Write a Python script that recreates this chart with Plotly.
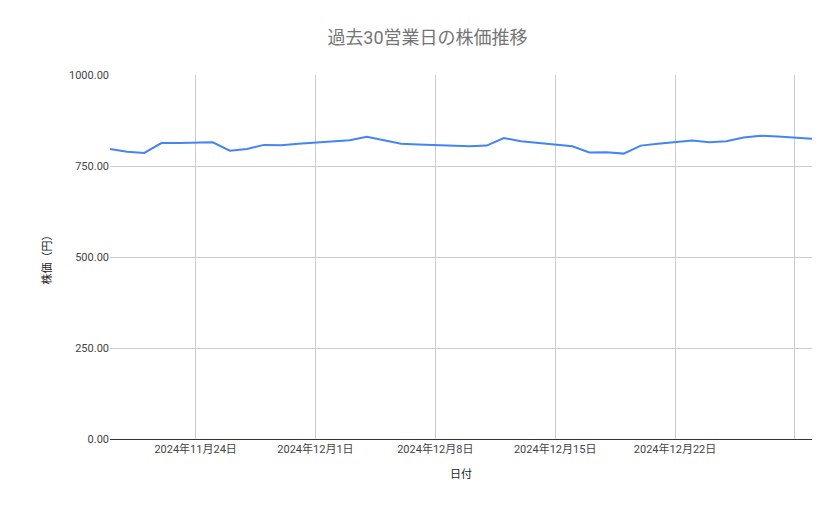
import plotly.graph_objects as go
import pandas as pd

dates = pd.date_range("2024-11-19", "2024-12-30", freq="D")
prices = [797, 789, 786, 813, 813, 814, 815, 792, 797, 808, 807, 811, 815, 818, 821, 830,
          821, 811, 809, 807, 805, 804, 806, 827, 818, 813, 809, 804, 787, 788, 784, 806,
          811, 815, 820, 815, 818, 828, 833, 831, 828, 825]
tick_dates = ["2024-11-24", "2024-12-01", "2024-12-08", "2024-12-15", "2024-12-22", "2024-12-29"]
tick_labels = ["2024年11月24日", "2024年12月1日", "2024年12月8日", "2024年12月15日", "2024年12月22日", ""]
y_ticks = [0, 250, 500, 750, 1000]

fig = go.Figure(go.Scatter(x=dates, y=prices, mode="lines",
                           line=dict(color="#4285f4", width=2), hoverinfo="x+y"))
fig.update_layout(
    width=839, height=519, paper_bgcolor="white", plot_bgcolor="white",
    font=dict(family="Roboto, Noto Sans CJK JP", color="#444", size=11),
    title=dict(text="過去30営業日の株価推移", x=0.5, xanchor="center", y=0.955,
               font=dict(size=18, color="#757575")),
    margin=dict(l=102, r=35, t=67, b=88),
    showlegend=False,
    xaxis=dict(title=dict(text="日付", font=dict(size=11, color="#222")),
               range=["2024-11-19", "2024-12-30"], tickvals=tick_dates, ticktext=tick_labels,
               showgrid=True, gridcolor="#cccccc", showline=True, linecolor="#333",
               ticks="", tickfont=dict(color="#444")),
    yaxis=dict(title=dict(text="株価（円）", font=dict(size=11, color="#222")),
               range=[0, 1000], tickvals=y_ticks, tickformat=".2f",
               showgrid=True, gridcolor="#cccccc", zeroline=False, ticks="",
               tickfont=dict(color="#444")),
)
fig.write_html("out.html")
